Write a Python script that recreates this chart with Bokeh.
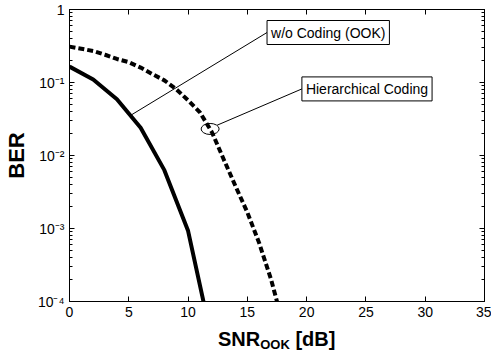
import numpy as np
from bokeh.plotting import figure
from bokeh.models import FixedTicker, LinearAxis, LogAxis, Label, Range1d, Div
from bokeh.layouts import column
from bokeh.embed import file_html
from bokeh.resources import INLINE

# ---- data ----
snr_uncoded = [0, 2, 4, 6, 8, 10, 12]
ber_uncoded = [0.165, 0.11, 0.059, 0.024, 0.0063, 9.3e-4, 3.0e-5]

snr_hier = [0, 1, 2, 3, 4, 5, 6, 7, 8, 9, 10, 11, 12, 13, 14, 15, 16, 17, 18]
ber_hier = [0.31, 0.29, 0.27, 0.24, 0.21, 0.19, 0.16, 0.13, 0.107, 0.081,
            0.057, 0.039, 0.021, 0.0089, 0.0038, 0.00166, 6.3e-4, 2.0e-4, 5e-5]

x_ticks = [0, 5, 10, 15, 20, 25, 30, 35]
x_tick_labels = ["0", "5", "10", "15", "20", "25", "30", "35"]
y_ticks = [1e-4, 1e-3, 1e-2, 1e-1, 1.0]
y_tick_labels = ["10\u207b\u2074", "10\u207b\u00b3", "10\u207b\u00b2", "10\u207b\u00b9", "1"]
y_minor = [m * 10.0 ** k for k in range(-4, 0) for m in range(2, 10)]

label_uncoded = "w/o Coding (OOK)"
label_hier = "Hierarchical Coding"
y_title = "BER"
x_title_main, x_title_sub, x_title_unit = "SNR", "OOK", " [dB]"

FONT = "Liberation Sans"

p = figure(width=491, height=327, x_range=Range1d(0, 35), y_range=Range1d(1e-4, 1),
           y_axis_type="log", output_backend="svg", toolbar_location=None,
           min_border_left=68, min_border_right=7, min_border_top=9, min_border_bottom=26,
           background_fill_color="white", border_fill_color="white")
p.xgrid.visible = False
p.ygrid.visible = False
p.outline_line_color = "black"
p.outline_line_width = 1

def style_axis(ax, ticks, labels, minor=None, show_labels=True):
    ax.ticker = FixedTicker(ticks=ticks, minor_ticks=minor or [])
    ax.major_label_overrides = {t: l for t, l in zip(ticks, labels)}
    ax.major_tick_in = 5
    ax.major_tick_out = 0
    ax.minor_tick_in = 3
    ax.minor_tick_out = 0
    ax.axis_line_color = "black"
    ax.major_tick_line_color = "black"
    ax.minor_tick_line_color = "black"
    ax.major_label_text_font = FONT
    ax.major_label_text_color = "black"
    if show_labels:
        ax.major_label_text_font_size = "14px"
    else:
        ax.major_label_text_font_size = "0px"
        ax.major_label_standoff = 0

style_axis(p.xaxis[0], x_ticks, x_tick_labels)
p.xaxis[0].major_label_standoff = 5
style_axis(p.yaxis[0], y_ticks, y_tick_labels, y_minor)
p.yaxis[0].major_label_standoff = 5
p.yaxis[0].axis_label = y_title
p.yaxis[0].axis_label_text_font = FONT
p.yaxis[0].axis_label_text_font_size = "22px"
p.yaxis[0].axis_label_text_font_style = "bold"
p.yaxis[0].axis_label_text_color = "black"
p.yaxis[0].axis_label_standoff = 6

top = LinearAxis()
style_axis(top, x_ticks, [""] * len(x_ticks), show_labels=False)
p.add_layout(top, "above")
right = LogAxis()
style_axis(right, y_ticks, [""] * len(y_ticks), y_minor, show_labels=False)
p.add_layout(right, "right")

# curves
p.line(snr_uncoded, ber_uncoded, line_color="black", line_width=4)
p.line(snr_hier, ber_hier, line_color="black", line_width=4, line_dash="6 3")

# annotations (leader lines, ellipse, boxed labels)
p.line([5.22, 16.66], [0.036, 0.484], line_color="black", line_width=1)
p.line([12.45, 19.6], [0.026, 0.0817], line_color="black", line_width=1)
p.ellipse(x=[11.86], y=[0.0231], width=18, height=11, width_units="screen",
          height_units="screen", fill_color=None, line_color="black", line_width=1)

for (lx, ly, txt) in [(16.66, 0.484, label_uncoded), (19.6, 0.0817, label_hier)]:
    p.add_layout(Label(x=lx, y=ly, text=txt, text_font=FONT, text_font_size="14px",
                       text_align="left", text_baseline="middle", text_color="black",
                       border_line_color="black", border_line_width=1,
                       background_fill_color="white", padding=4))

# x-axis title with subscript, as real HTML text under the figure
xlabel = Div(
    text=(f"<div style='font-family:\"{FONT}\",Arial,sans-serif;font-weight:bold;"
          f"font-size:20px;line-height:24px;padding-left:218px;white-space:nowrap;color:black;'>"
          f"{x_title_main}<span style='font-size:13px;position:relative;top:3px;'>{x_title_sub}</span>"
          f"{x_title_unit}</div>"),
    width=491, height=26, margin=(0, 0, 0, 0))

layout = column(p, xlabel, spacing=0)
open("out.html", "w").write(file_html(layout, INLINE))
